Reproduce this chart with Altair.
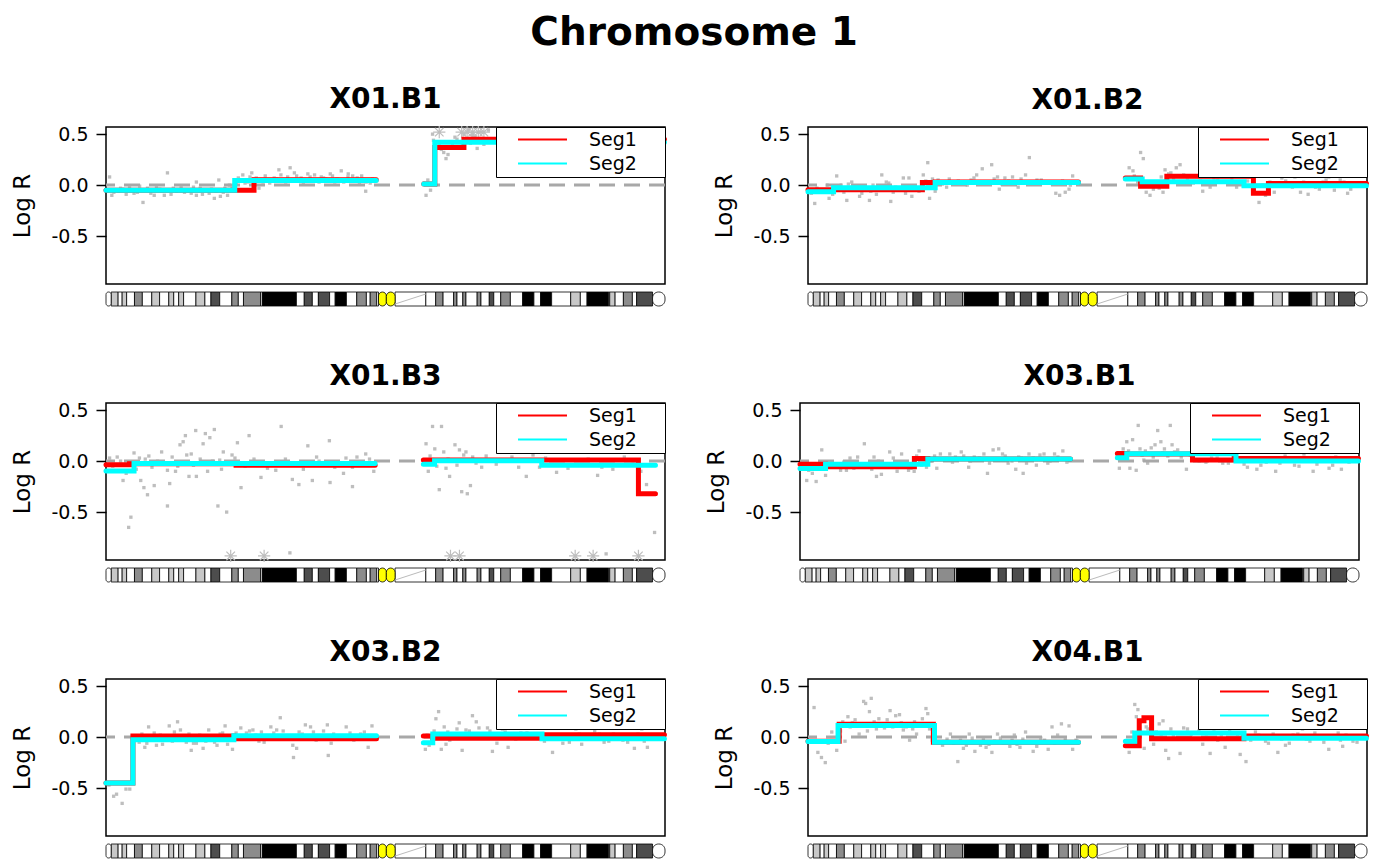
import altair as alt
import pandas as pd

CHR_LEN = 249.25
Y_DOMAIN = [-0.97, 0.57]
PLOT_W, PLOT_H = 559, 157
IDEO_TOP, IDEO_BOTTOM = 165, 179
FONT = "DejaVu Sans"

series_names = ["Seg1", "Seg2"]
series_colors = ["#FF0000", "#00FFFF"]

# ---- chromosome 1 cytobands (Mb) ----
band_start = [0, 2.3, 5.4, 7.2, 9.2, 12.7, 16.2, 20.4, 23.9, 28.0, 30.2, 32.4, 34.6, 40.1, 44.1,
              46.8, 50.7, 56.1, 59.0, 61.3, 68.9, 69.7, 84.9, 88.4, 92.0, 94.7, 99.7, 102.2, 107.2,
              111.8, 116.1, 117.8, 120.7, 121.5, 125.0, 128.9, 142.6, 147.0, 150.3, 155.0, 156.5,
              159.1, 160.5, 165.5, 167.2, 170.9, 172.9, 176.0, 180.3, 185.8, 190.8, 193.8, 198.7,
              207.2, 211.5, 214.5, 224.1, 224.6, 227.0, 230.7, 234.7, 236.6, 243.7]
band_end = band_start[1:] + [CHR_LEN]
band_stain = ["gneg", "gpos25", "gneg", "gpos25", "gneg", "gpos50", "gneg", "gpos25", "gneg",
              "gpos25", "gneg", "gpos25", "gneg", "gpos25", "gneg", "gpos75", "gneg", "gpos50",
              "gneg", "gpos50", "gneg", "gpos100", "gneg", "gpos75", "gneg", "gpos75", "gneg",
              "gpos100", "gneg", "gpos50", "gneg", "gpos50", "gneg", "acen", "acen", "gvar",
              "gneg", "gpos50", "gneg", "gpos50", "gneg", "gpos50", "gneg", "gpos50", "gneg",
              "gpos75", "gneg", "gpos50", "gneg", "gpos100", "gneg", "gpos100", "gneg", "gpos25",
              "gneg", "gpos100", "gneg", "gpos25", "gneg", "gpos50", "gneg", "gpos75", "gneg"]
stain_names = ["gneg", "gpos25", "gpos50", "gpos75", "gpos100", "acen", "gvar"]
stain_colors = ["#FFFFFF", "#C8C8C8", "#8C8C8C", "#4D4D4D", "#000000", "#FFFF00", "#FFFFFF"]

# ---- sample X01.B1 ----
x01b1_pos = [1.6, 2.6, 5.6, 7.5, 10.5, 12.5, 14, 16.5, 18.5, 21.5, 22.5, 25, 27.4, 29, 31.4, 33.5,
             36.4, 38, 40.3, 40.3, 42, 44.3, 46, 48.3, 50.3, 52.3, 54.2, 56.2, 58, 60.2, 62, 64.2,
             66, 68.2, 70, 72.1, 75, 77.1, 80.1, 82.1, 85.0, 86.5, 88, 90.0, 92.0, 94, 96.0, 98,
             100.0, 102, 104.9, 107.9, 110, 111.9, 113, 115.8, 117.8, 118.8,
             141.7, 142.7, 144.7, 145.6, 148.6, 150.6, 151.6, 153.6, 155.6, 157.6, 159.6, 161.5,
             163.5, 165.5, 167.5, 169.5, 170.5, 175, 180, 185, 190, 195, 200, 205, 210, 215, 220,
             225, 230, 235, 240, 245]
x01b1_val = [0.08, -0.10, -0.06, -0.04, -0.02, -0.08, -0.07, -0.17, -0.03, -0.10, -0.02, -0.06,
             0.12, -0.09, -0.06, -0.02, -0.05, -0.08, -0.10, 0.03, -0.03, -0.05, -0.08, -0.13,
             0.05, -0.07, -0.10, -0.02, 0.01, 0.05, 0.02, 0.08, 0.06, -0.03, 0.03, 0.05, 0.07,
             0.15, 0.03, 0.17, 0.09, 0.04, 0.02, 0.11, 0.05, 0.04, 0.08, 0.06, 0.11, 0.03, 0.14,
             0.08, 0.09, 0.05, 0.02, -0.06, 0.02, 0.06,
             0.02, -0.10, -0.05, 0.50, 0.41, 0.32, 0.26, 0.37, 0.47, 0.42, 0.50, 0.54, 0.49, 0.36,
             0.52, 0.44, 0.54, 0.45, 0.40, 0.50, 0.43, 0.38, 0.47, 0.42, 0.49, 0.44, 0.40, 0.46,
             0.43, 0.50, 0.41, 0.45]
x01b1_more = [(3.5, -0.07), (6.5, -0.03), (9, -0.09), (11.5, -0.05), (15, -0.01), (20, -0.08),
              (24, -0.04), (26, -0.10), (30, -0.03), (35, -0.07), (39, -0.02), (43, -0.09),
              (47, -0.04), (49, -0.06), (51, -0.11), (53, -0.03), (55, 0.0), (59, 0.07), (61, 0.10),
              (63, 0.03), (65, 0.12), (67, 0.07), (69, 0.04), (71, 0.09), (73, 0.02), (76, 0.06),
              (78, 0.10), (79, 0.05), (81, 0.08), (83, 0.04), (84, 0.12), (87, 0.07), (89, 0.05),
              (91, 0.08), (93, 0.10), (95, 0.03), (97, 0.07), (99, 0.04), (101, 0.09), (103, 0.06),
              (106, 0.03), (108, 0.11), (109, 0.04), (112, 0.07), (114, 0.09), (116, 0.03),
              (119.5, 0.05), (143.5, 0.05), (146, 0.44), (147, 0.38), (149.5, 0.35), (152.5, 0.30),
              (154.5, 0.41), (156.5, 0.45), (158.5, 0.38), (160.5, 0.44), (162.5, 0.41),
              (164.5, 0.47), (166.5, 0.43), (168.5, 0.40)]
x01b1_out_pos = [148.6, 158.6, 161.0, 163.5, 166.0, 168.5]
x01b1_out_val = [0.52, 0.52, 0.52, 0.52, 0.52, 0.52]
x01b1_seg1 = [(0, 66, -0.05), (66, 120.5, 0.052),
              (141.7, 146.6, 0.01), (146.6, 159.6, 0.37), (159.6, 249, 0.45)]
x01b1_seg2 = [(0, 57.4, -0.05), (57.4, 120.5, 0.045),
              (141.7, 146.6, 0.01), (146.6, 249, 0.42)]

# ---- sample X01.B2 ----
x01b2_pos = [3.0, 5.5, 9.4, 12.8, 14.8, 17.3, 19.5, 22.3, 24, 27.4, 29, 32.9, 34.9, 36.9, 39.1,
             42.5, 45, 46.3, 51.4, 53.4, 54.2, 56.7, 61.8, 65.1, 69.3, 72.7, 75.2, 77.7, 81.9,
             84.5, 85.3, 87.8, 91.2, 93.7, 97, 98.7, 102.1, 107.1, 110.5, 112.2, 114.7, 116.4, 118.0,
             143.2, 144.9, 148.3, 149.5, 150.8, 152.5, 156.6, 158.3, 159.2, 160.8, 164.2, 165.9,
             169.2, 171.8, 176, 179.3, 182.7, 187.7, 191.1, 201.1, 202.8, 207.9, 211.3, 214.6,
             217.1, 219.6, 223, 226.3, 229.7, 232.2, 234.7, 237.3, 240.6, 243.9]
x01b2_val = [-0.18, -0.05, -0.13, 0.09, 0.0, -0.15, 0.03, -0.03, -0.08, -0.15, 0.0, 0.10, 0.03,
             -0.16, -0.02, 0.07, 0.07, -0.11, 0.10, 0.22, -0.13, -0.06, -0.02, 0.03, 0.02, 0.05,
             0.10, 0.16, 0.20, 0.08, -0.04, 0.07, 0.08, -0.02, 0.10, 0.27, 0.05, 0.03, -0.08, -0.10,
             -0.07, -0.04, 0.09,
             0.17, 0.14, 0.32, 0.26, -0.07, -0.10, -0.03, -0.07, 0.15, 0.11, 0.17, 0.20, 0.05,
             0.02, -0.06, -0.02, 0.05, 0.02, -0.02, -0.17, 0.0, -0.07, 0.07, 0.09, 0.08, -0.07,
             -0.09, -0.02, 0.03, 0.08, -0.05, 0.05, -0.08, 0.0]
x01b2_more = [(1.5, -0.08), (4, -0.03), (7, -0.06), (8.5, 0.0), (11, -0.09), (13.5, -0.04),
              (16, -0.07), (18, 0.01), (21, -0.05), (23, -0.11), (25.5, -0.02), (28, -0.06),
              (30.5, -0.09), (33.5, -0.03), (36, 0.02), (38, -0.07), (40.5, -0.04), (43.5, -0.08),
              (47.5, -0.02), (49.5, -0.06), (52.5, 0.04), (55.5, 0.06), (58, 0.05), (60, 0.01),
              (63, 0.06), (67, 0.04), (71, 0.0), (74, 0.07), (79, 0.03), (83, 0.06), (86.5, 0.01),
              (89.5, 0.04), (95, 0.06), (100, 0.02), (104, 0.05), (109, 0.01), (113.5, 0.04),
              (117, 0.0), (145.5, 0.09), (147, 0.03), (151.5, 0.02), (154, -0.04), (157.5, 0.08),
              (161.8, 0.12), (163, 0.06), (167.5, 0.10), (173, 0.09), (175, 0.04), (178, 0.10),
              (181, 0.07), (185, 0.11), (189, 0.06), (193, 0.09), (196, 0.04), (199, -0.05),
              (204, -0.10), (206, 0.03), (209.5, 0.0), (213, 0.04), (216, -0.02), (221, 0.03),
              (225, 0.01), (228, -0.04), (231, 0.05), (236, -0.01), (239, 0.03), (242, -0.04),
              (245.5, 0.02)]
x01b2_out_pos = []
x01b2_out_val = []
x01b2_seg1 = [(0, 51, -0.045), (51, 56.7, 0.025), (56.7, 120.6, 0.03),
              (141.5, 148.3, 0.07), (148.3, 160, -0.01), (160, 198.6, 0.088),
              (198.6, 205.3, -0.08), (205.3, 249, 0.016)]
x01b2_seg2 = [(0, 11.4, -0.065), (11.4, 56.7, -0.026), (56.7, 120.6, 0.026),
              (141.5, 149, 0.06), (149, 194.4, 0.033), (194.4, 249, -0.007)]

# ---- sample X01.B3 ----
x01b3_pos = [1.6, 5, 7.6, 10.1, 11.1, 12.5, 14.9, 15.5, 16.9, 18.5, 19.1, 21.5, 24.8, 27.4, 27.4,
             28.4, 31, 33, 34.4, 35.4, 37, 38, 40, 40.3, 43.3, 44.3, 45.3, 46.3, 48.3, 49.9, 50.7,
             52.3, 53.8, 56.2, 58.6, 60.2, 63.8, 69.1, 75.7, 78.1, 82, 83.1, 86, 90, 92, 93.9,
             99.6, 99.9, 105.9, 109.9, 109.9, 111.9, 115.8, 119.4,
             142.7, 143.7, 145.6, 146.6, 148.6, 149.6, 150.6, 151.6, 153.2, 155.6, 157.6, 158.6,
             160.5, 161.1, 162.5, 163.5, 167.5, 171.5, 177.4, 187.4, 190.4, 193.3, 200.9, 203.3,
             211.2, 219.2, 221.1, 223, 231.1, 241.0, 244.6]
x01b3_val = [0.03, 0.04, -0.19, -0.65, -0.55, 0.08, 0.03, -0.19, -0.26, -0.33, 0.05, -0.24, 0.09,
             -0.09, -0.44, -0.22, -0.10, 0.16, 0.19, 0.25, -0.15, 0.07, 0.30, -0.15, 0.17, 0.27,
             -0.10, 0.23, 0.31, -0.44, 0.01, 0.09, -0.50, 0.06, 0.18, -0.26, 0.25, -0.16, -0.09,
             0.34, -0.90, -0.18, -0.23, 0.15, -0.19, 0.04, 0.20, -0.21, -0.12, -0.06, -0.25, 0.04,
             0.07, -0.10,
             0.17, -0.10, 0.34, 0.12, -0.28, 0.34, 0.09, -0.07, -0.15, 0.16, 0.11, -0.30, 0.09,
             -0.32, -0.24, 0.04, -0.06, 0.01, 0.09, -0.15, 0.06, -0.06, -0.11, 0.11, 0.01, -0.14,
             -0.06, -0.91, 0.04, -0.23, -0.70]
x01b3_more = [(3, -0.05), (6.5, 0.0), (9, -0.12), (13.5, -0.08), (17.5, 0.02), (20.5, -0.06),
              (23, 0.0), (26, -0.03), (29.5, 0.04), (32, -0.05), (36, 0.06), (39, -0.04), (42, 0.02),
              (47.5, 0.0), (51.5, -0.08), (55, -0.02), (57.5, 0.03), (62, -0.05), (66, 0.02),
              (72, -0.07), (80, 0.02), (88, -0.08), (95, 0.0), (102, -0.06), (107, 0.03),
              (113, -0.04), (117.5, 0.02), (144.5, 0.05), (147.5, -0.05), (152.5, 0.02),
              (156.5, -0.04), (159.5, 0.06), (165, -0.02), (169.5, 0.05), (174, -0.03), (181, 0.04),
              (184, -0.06), (196, 0.03), (206, -0.07), (215, 0.02), (226, -0.08), (235, 0.0),
              (238.5, -0.10)]
x01b3_out_pos = [55.6, 70.5, 153.6, 157.6, 209.2, 217.2, 237.4]
x01b3_out_val = [-0.93, -0.93, -0.93, -0.93, -0.93, -0.93, -0.93]
x01b3_seg1 = [(0, 10.5, -0.035), (10.5, 58, -0.025), (58, 120, -0.04),
              (141.5, 237.4, 0.01), (237.4, 245, -0.32)]
x01b3_seg2 = [(0, 12.5, -0.098), (12.5, 120, -0.023),
              (141.5, 146.5, -0.03), (146.5, 194.3, 0.003), (194.3, 245, -0.04)]

# ---- sample X03.B1 ----
x03b1_pos = [3.0, 3.9, 7.2, 9.7, 11.4, 14.8, 18.1, 20.7, 22.3, 25.7, 28.7, 30.7, 33, 34.1, 36.3,
             38, 40, 41.6, 43.3, 45.3, 48.4, 50.9, 53.1, 54.2, 56.4, 61, 62.6, 66.8, 69.3, 71.9,
             75.2, 77.7, 83.6, 84.5, 86.1, 88.6, 90.3, 92.8, 96.2, 98.7, 99.5, 102.1, 105.4, 108.8,
             110.5, 113.5, 117.2,
             142.4, 144.1, 145.7, 147.1, 148.3, 149.9, 150.8, 151.6, 153.3, 155, 156.6, 158.3,
             159.5, 160.9, 162.5, 165.1, 165.9, 168.4, 172.3, 176, 181, 186, 191, 196.1, 199.5,
             203.7, 207.9, 212.1, 216.3, 220.5, 224.7, 228.8, 232.2, 235.9, 238.9, 241.4, 244.8]
x03b1_val = [-0.19, -0.09, -0.20, 0.11, -0.14, -0.04, -0.09, -0.09, 0.03, 0.04, 0.17, -0.06, 0.04,
             -0.15, -0.13, -0.04, 0.09, 0.03, -0.10, 0.07, -0.09, -0.10, 0.10, -0.04, -0.06, -0.07,
             0.07, 0.07, 0.04, 0.09, -0.06, 0.04, -0.12, -0.02, 0.11, 0.12, 0.07, -0.02, -0.08,
             0.03, -0.12, 0.07, -0.04, 0.07, -0.02, 0.07, 0.10,
             -0.07, 0.12, 0.19, -0.07, 0.21, -0.09, 0.35, 0.12, 0.01, -0.02, 0.13, 0.16, 0.30,
             0.19, 0.12, 0.35, 0.16, 0.11, -0.08, 0.01, -0.01, 0.03, -0.02, 0.01, -0.06, -0.08,
             -0.01, -0.10, 0.05, -0.04, 0.07, -0.10, 0.03, -0.07, 0.04, -0.08, -0.01]
x03b1_more = [(1.5, -0.06), (5.5, -0.12), (8.5, -0.05), (12.5, -0.02), (16, -0.06), (19.5, -0.01),
              (24, -0.07), (27, -0.03), (32, -0.08), (35, 0.0), (39, -0.06), (44.5, -0.03),
              (47, -0.01), (49.5, -0.07), (52, 0.05), (55.5, 0.02), (58.5, 0.0), (60, 0.05),
              (64, 0.02), (68, -0.01), (73, 0.05), (76, 0.0), (80, 0.03), (82, 0.07), (87, 0.02),
              (91.5, 0.05), (94.5, 0.0), (97.5, 0.04), (101, -0.02), (104, 0.03), (107, 0.06),
              (111.5, 0.0), (115, 0.04), (119, -0.01), (143, 0.05), (146.5, 0.10), (152.5, 0.06),
              (154, 0.10), (157.5, 0.04), (161.7, 0.08), (164, 0.05), (167, 0.09), (170, 0.04),
              (174, 0.06), (178, 0.0), (183.5, 0.03), (188.5, -0.02), (193.5, 0.04), (198, -0.03),
              (201.5, 0.02), (205.5, -0.04), (210, 0.03), (214, -0.02), (218.5, 0.01),
              (222.5, -0.05), (226.5, 0.03), (230.5, -0.03), (234, 0.02), (237.5, -0.04),
              (243, 0.03)]
x03b1_out_pos = []
x03b1_out_val = []
x03b1_seg1 = [(0, 11.4, -0.03), (11.4, 51, -0.055), (51, 57, 0.026), (57, 120.6, 0.02),
              (141.5, 145.7, 0.075), (145.7, 175, 0.07), (175, 193.6, 0.01), (193.6, 249, 0.026)]
x03b1_seg2 = [(0, 11.4, -0.072), (11.4, 57, -0.03), (57, 120.6, 0.02),
              (141.5, 145.7, 0.033), (145.7, 194.4, 0.072), (194.4, 249, 0.0)]

# ---- sample X03.B2 ----
x03b2_pos = [1.3, 3.4, 4.7, 7.2, 8.9, 10.6, 12.3, 14.8, 17.3, 19, 21.5, 23.2, 25.2, 28.2, 29.6,
             31.9, 33.2, 35.8, 38, 40.3, 43.3, 45.8, 48.4, 50.9, 53.1, 54.2, 56.4, 60.1, 62.6,
             65.5, 68.2, 70.5, 73.5, 76.1, 77.7, 80.3, 83.3, 83.6, 85, 86.1, 88.9, 91.2, 93.7,
             98.7, 99.1, 100.4, 102.9, 107.1, 110.5, 113.5, 116.9, 118.6,
             142.4, 144.1, 147.1, 148.3, 149.5, 150.8, 151.6, 153.3, 155.5, 157.5, 158.8, 160.5,
             163.4, 165.1, 167.6, 170.1, 172.3, 174.3, 176.8, 179.3, 182.7, 187.7, 192.7, 199.1,
             203.7, 209.5, 212.1, 217.9, 222.1, 226.3, 230.5, 235.6, 238.9, 241.4, 244.8]
x03b2_val = [-0.47, -0.58, -0.56, -0.65, -0.51, -0.51, 0.0, -0.05, -0.10, 0.10, 0.04, -0.03,
             -0.07, 0.11, -0.04, 0.15, 0.07, -0.05, -0.13, -0.06, -0.11, 0.07, -0.05, 0.03, 0.11,
             -0.07, -0.12, 0.09, 0.04, 0.07, -0.04, -0.05, 0.10, 0.07, 0.19, -0.02, -0.08, -0.20,
             -0.11, 0.05, 0.12, 0.10, -0.03, 0.12, -0.18, -0.06, 0.0, 0.10, -0.03, 0.03, -0.10,
             0.11,
             -0.12, -0.08, 0.18, 0.25, -0.12, 0.10, -0.07, -0.03, 0.02, 0.14, -0.13, 0.07, 0.21,
             0.15, 0.0, 0.09, -0.14, -0.06, 0.08, -0.10, -0.02, 0.04, 0.0, -0.15, -0.06, 0.08,
             -0.07, 0.06, -0.05, 0.03, -0.03, -0.11, 0.08, -0.10, -0.02]
x03b2_more = [(13.5, -0.02), (16, 0.03), (18.2, -0.06), (20, 0.0), (22.5, -0.08), (24.2, 0.02),
              (26.5, -0.03), (30.5, 0.05), (34.5, -0.02), (37, 0.03), (39, -0.06), (41.8, 0.02),
              (44.5, -0.04), (47, 0.01), (49.5, -0.08), (52, 0.04), (55.3, -0.02), (58, 0.04),
              (61.3, 0.0), (64, 0.06), (66.8, 0.02), (69.3, 0.05), (72, 0.0), (74.8, 0.04),
              (79, 0.06), (81.8, 0.01), (87.5, 0.03), (90, -0.02), (92.5, 0.05), (95, 0.01),
              (97, 0.06), (101.5, 0.03), (104.5, 0.0), (108.8, 0.04), (112, 0.0), (115.2, 0.05),
              (117.8, -0.02), (143.2, 0.02), (145.5, -0.04), (146.3, 0.06), (152.4, 0.05),
              (154.4, 0.0), (156.5, 0.08), (159.6, 0.03), (162, 0.06), (164.2, 0.0), (166.3, 0.09),
              (168.8, 0.03), (171.2, 0.06), (175.5, 0.02), (178, 0.05), (181, 0.0), (185, 0.04),
              (190, 0.02), (195.5, -0.04), (201.4, 0.0), (206.6, -0.05), (211, 0.03), (215, -0.02),
              (220, 0.03), (224.2, -0.04), (228.4, 0.02), (232.6, -0.05), (237.2, 0.03),
              (240, -0.04), (243, 0.02)]
x03b2_out_pos = []
x03b2_out_val = []
x03b2_seg1 = [(0, 12, -0.45), (12, 57, 0.01), (57, 120.6, -0.016),
              (141.5, 145.7, 0.01), (145.7, 194.4, -0.01), (194.4, 249, 0.023)]
x03b2_seg2 = [(0, 12, -0.45), (12, 57, -0.026), (57, 120.6, 0.013),
              (141.5, 145.7, -0.055), (145.7, 194.4, 0.03), (194.4, 249, -0.016)]

# ---- sample X04.B1 ----
x04b1_pos = [2.7, 4.4, 6.0, 7.7, 10.6, 12.8, 16.5, 17.8, 19.8, 22.8, 24.8, 25.7, 27.4, 28.2, 31.6,
             34.1, 36.6, 39.1, 40.8, 42.5, 45.3, 46.7, 48.4, 52.6, 53.4, 55.4, 63.5, 66.8, 69.3,
             71.9, 74.4, 76.9, 79.4, 82, 84.5, 87, 90, 92, 94.5, 97, 100.4, 103.8, 107.1, 108.8,
             111.3, 113, 116.4, 118,
             143.2, 145.7, 147.1, 148.3, 149.9, 151.6, 154.1, 156.6, 158.3, 159.5, 160.8, 162.9,
             165.9, 169.2, 172.6, 176, 179.3, 182.7, 186, 190.2, 192.7, 195.3, 199.5, 202.8,
             205.3, 209.5, 212.9, 216.3, 220.5, 223.8, 228, 232.2, 236.4, 238.4, 241.4, 244.8]
x04b1_val = [0.29, -0.15, -0.20, -0.25, 0.05, -0.13, -0.04, 0.20, 0.14, 0.03, 0.35, 0.33, 0.25,
             0.38, 0.18, 0.09, 0.26, 0.21, 0.22, 0.07, -0.03, 0.08, 0.03, 0.28, 0.23, -0.03, 0.03,
             -0.24, -0.11, 0.03, -0.14, -0.08, -0.10, -0.15, 0.03, -0.06, -0.09, 0.02, -0.10, 0.05,
             -0.14, -0.01, -0.12, 0.10, 0.02, 0.13, 0.11, -0.12,
             -0.15, 0.32, 0.27, 0.15, -0.11, 0.08, -0.07, 0.13, 0.16, -0.13, -0.21, 0.02, -0.16,
             0.08, -0.02, -0.07, -0.16, -0.03, -0.10, -0.01, -0.17, -0.24, 0.05, 0.10, -0.06,
             -0.15, -0.08, 0.02, 0.08, -0.04, 0.0, -0.12, 0.04, -0.09, 0.0, -0.05]
x04b1_more = [(1.5, -0.04), (9, -0.06), (14.5, 0.06), (15.5, 0.15), (18.8, 0.10), (21, 0.17),
              (23.8, 0.12), (26.5, 0.06), (29.5, 0.15), (30.5, 0.08), (32.8, 0.13), (35.3, 0.17),
              (37.8, 0.10), (41.6, 0.14), (43.8, 0.10), (47.5, 0.15), (49.6, 0.12), (51, 0.18),
              (54.2, 0.08), (57.5, -0.05), (60, -0.08), (62, -0.02), (65, -0.06), (68, -0.03),
              (70.6, -0.08), (73.2, -0.01), (75.6, -0.05), (78.2, -0.02), (80.7, -0.07),
              (83.2, -0.04), (85.8, -0.01), (88.5, -0.06), (91, -0.03), (93.2, -0.07), (95.8, -0.02),
              (98.7, -0.05), (102, -0.09), (105.5, -0.03), (110, -0.06), (114.7, -0.02),
              (117.2, -0.05), (119.5, -0.03), (144.4, 0.05), (146.4, 0.20), (150.8, 0.10),
              (152.8, 0.0), (155.3, 0.05), (157.5, 0.02), (161.8, 0.08), (164.4, 0.04), (167.5, 0.09),
              (170.9, 0.03), (174.3, 0.06), (177.6, 0.0), (181, 0.05), (184.3, 0.02), (188, 0.07),
              (191.5, 0.01), (197.4, -0.03), (201, 0.02), (204, -0.04), (207.4, 0.03),
              (211.2, -0.02), (214.6, -0.06), (218.4, 0.03), (222.2, -0.02), (226, 0.04),
              (230, -0.05), (234.3, 0.01), (237.4, -0.03), (239.9, 0.02), (243, -0.04)]
x04b1_out_pos = []
x04b1_out_val = []
x04b1_seg1 = [(0, 13.9, -0.04), (13.9, 55.9, 0.125), (55.9, 120.6, -0.05),
              (141.5, 147.7, -0.085), (147.7, 149.8, 0.16), (149.8, 153.2, 0.19),
              (153.2, 194.4, -0.016), (194.4, 249, 0.01)]
x04b1_seg2 = [(0, 13.4, -0.042), (13.4, 56.4, 0.114), (56.4, 120.6, -0.05),
              (141.5, 145.7, -0.04), (145.7, 194.4, 0.04), (194.4, 249, -0.01)]

samples = [
    ("X01.B1", x01b1_pos, x01b1_val, x01b1_more, x01b1_out_pos, x01b1_out_val, x01b1_seg1, x01b1_seg2),
    ("X01.B2", x01b2_pos, x01b2_val, x01b2_more, x01b2_out_pos, x01b2_out_val, x01b2_seg1, x01b2_seg2),
    ("X01.B3", x01b3_pos, x01b3_val, x01b3_more, x01b3_out_pos, x01b3_out_val, x01b3_seg1, x01b3_seg2),
    ("X03.B1", x03b1_pos, x03b1_val, x03b1_more, x03b1_out_pos, x03b1_out_val, x03b1_seg1, x03b1_seg2),
    ("X03.B2", x03b2_pos, x03b2_val, x03b2_more, x03b2_out_pos, x03b2_out_val, x03b2_seg1, x03b2_seg2),
    ("X04.B1", x04b1_pos, x04b1_val, x04b1_more, x04b1_out_pos, x04b1_out_val, x04b1_seg1, x04b1_seg2),
]

# ---- shared data tables ----
kinds = []
for i, s in enumerate(band_stain):
    if s == "acen":
        kinds.append("cen")
    elif i == 0 or i == len(band_stain) - 1:
        kinds.append("end")
    else:
        kinds.append("band")
bands = pd.DataFrame({"start": band_start, "end": band_end, "stain": band_stain, "kind": kinds})

XS = alt.Scale(domain=[0, CHR_LEN], nice=False, zero=False, padding=0)
YS = alt.Scale(domain=Y_DOMAIN, nice=False, zero=False)
Y_AXIS = alt.Axis(values=[-0.5, 0, 0.5], labelExpr="replace(format(datum.value, '.1f'), '\u2212', '-')",
                  tickSize=10, tickColor="black", tickWidth=1.5, domain=False, grid=False,
                  labelFontSize=19, labelFont=FONT, labelColor="black", labelPadding=8,
                  title="Log R", titleFontSize=23, titleFont=FONT, titleFontWeight="normal",
                  titleColor="black", titlePadding=16)
FILL_SCALE = alt.Scale(domain=stain_names, range=stain_colors)
COLOR_SCALE = alt.Scale(domain=series_names, range=series_colors)
LEGEND = alt.Legend(title=None, orient="top-right", offset=0, symbolType="M-5,0L5,0",
                    symbolSize=96, symbolStrokeWidth=2, labelFontSize=19, labelFont=FONT,
                    labelColor="black", strokeColor="black", fillColor="white", padding=3,
                    rowPadding=4, symbolOffset=34, labelOffset=37,
                    labelExpr="datum.label + '\u00a0\u00a0\u00a0\u00a0\u200b'")
ASTERISK = "M-1,0L1,0M0,-1L0,1M-0.7,-0.7L0.7,0.7M-0.7,0.7L0.7,-0.7"


def seg_table(segs, label):
    rows = []
    for i, (s, e, v) in enumerate(segs):
        arm = "p" if s < 125 else "q"
        rows.append({"pos": s, "logr": v, "series": label, "arm": arm, "k": 2 * i})
        rows.append({"pos": e, "logr": v, "series": label, "arm": arm, "k": 2 * i + 1})
    return pd.DataFrame(rows)


def panel(name, pos, val, more, out_pos, out_val, seg1, seg2):
    pts = pd.DataFrame({"pos": list(pos) + [p for p, _ in more],
                        "logr": list(val) + [v for _, v in more]})
    outs = pd.DataFrame({"pos": out_pos, "logr": out_val})
    zero = pd.DataFrame({"logr": [0.0]})
    y_enc = alt.Y("logr:Q", scale=YS, axis=Y_AXIS, title="Log R")
    x_enc = alt.X("pos:Q", scale=XS, axis=None)

    points = alt.Chart(pts).mark_square(size=11, color="#BEBEBE", opacity=1).encode(x=x_enc, y=y_enc)
    stars = alt.Chart(outs).mark_point(shape=ASTERISK, size=150, color="#BEBEBE", filled=False,
                                       strokeWidth=1.2, opacity=1).encode(x=x_enc, y=y_enc)
    zline = alt.Chart(zero).mark_rule(color="#A8A8A8", strokeWidth=3, strokeDash=[16, 9]).encode(y=y_enc)

    def seg_layer(segs, label):
        return alt.Chart(seg_table(segs, label)).mark_line(strokeWidth=5, strokeCap="round").encode(
            x=x_enc, y=y_enc,
            color=alt.Color("series:N", scale=COLOR_SCALE, legend=LEGEND),
            detail="arm:N", order="k:Q")

    l1 = seg_layer(seg1, "Seg1")
    l2 = seg_layer(seg2, "Seg2")

    bx = alt.X("start:Q", scale=XS, axis=None)
    ideo_band = alt.Chart(bands).transform_filter("datum.kind == 'band'").mark_rect(
        stroke="black", strokeWidth=0.8).encode(
        x=bx, x2="end:Q", y=alt.value(IDEO_TOP), y2=alt.value(IDEO_BOTTOM),
        fill=alt.Fill("stain:N", scale=FILL_SCALE, legend=None))
    ideo_end = alt.Chart(bands).transform_filter("datum.kind == 'end'").mark_rect(
        stroke="black", strokeWidth=0.8, cornerRadius=6).encode(
        x=bx, x2="end:Q", y=alt.value(IDEO_TOP), y2=alt.value(IDEO_BOTTOM),
        fill=alt.Fill("stain:N", scale=FILL_SCALE, legend=None))
    ideo_cen = alt.Chart(bands).transform_filter("datum.kind == 'cen'").mark_rect(
        stroke="black", strokeWidth=0.8, cornerRadius=5).encode(
        x=bx, x2="end:Q", y=alt.value(IDEO_TOP), y2=alt.value(IDEO_BOTTOM),
        fill=alt.Fill("stain:N", scale=FILL_SCALE, legend=None))
    ideo_hatch = alt.Chart(bands).transform_filter("datum.stain == 'gvar'").mark_rule(
        color="#BBBBBB", strokeWidth=1).encode(
        x=bx, x2="end:Q", y=alt.value(IDEO_BOTTOM - 2), y2=alt.value(IDEO_TOP + 2))

    return alt.layer(points, stars, zline, l1, l2, ideo_band, ideo_end, ideo_cen, ideo_hatch).properties(
        width=PLOT_W, height=PLOT_H,
        title=alt.TitleParams(name, fontSize=28, font=FONT, fontWeight="bold", anchor="middle",
                              offset=10, color="black"))


panels = [panel(*s) for s in samples]
rows = [alt.hconcat(panels[i], panels[i + 1], spacing=37).resolve_scale(color="independent")
        for i in (0, 2, 4)]
chart = alt.vconcat(*rows, spacing=54).resolve_scale(color="independent").properties(
    title=alt.TitleParams("Chromosome 1", fontSize=39, font=FONT, fontWeight="bold",
                          anchor="middle", offset=32, color="black")
).configure(padding={"left": 3, "right": 5, "top": 5, "bottom": 2}).configure_view(
    stroke="black", strokeWidth=1.5)

chart.save("out.html", embed_options={"renderer": "svg", "actions": False})
